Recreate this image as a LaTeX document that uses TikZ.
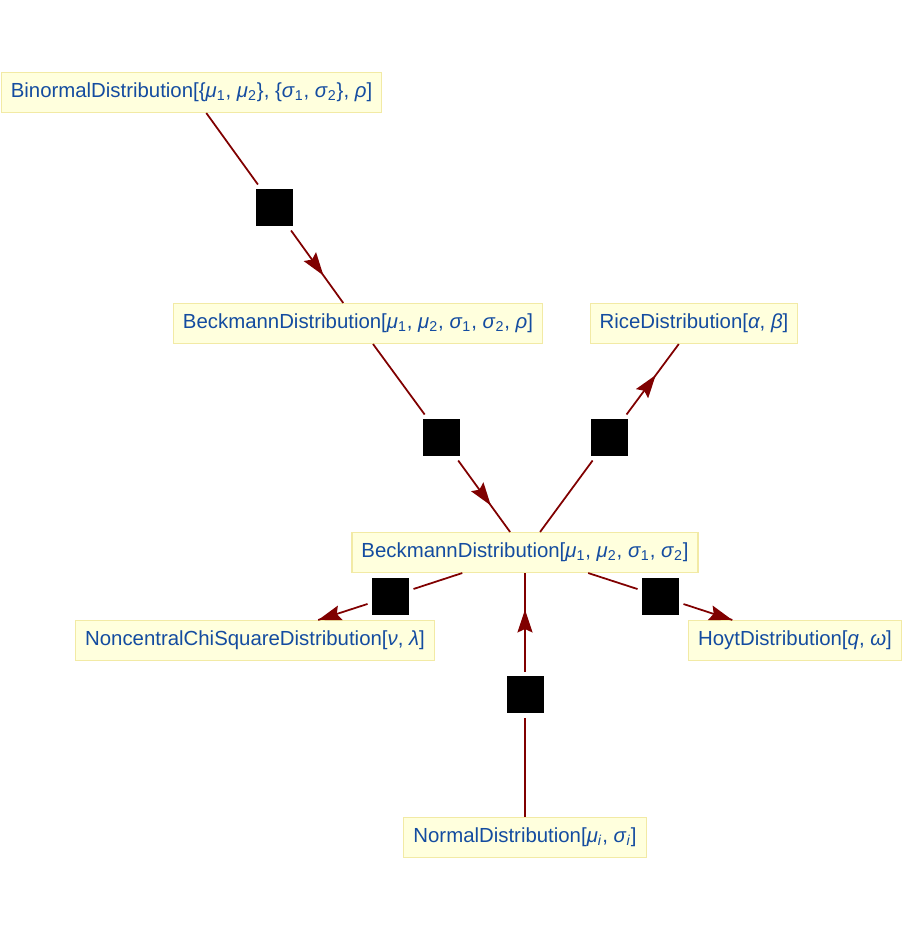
\documentclass[tikz,border=0pt]{standalone}
\usepackage{fontspec}
\setmainfont{Liberation Sans}
\usetikzlibrary{arrows.meta,decorations.markings}

\definecolor{distblue}{RGB}{20,76,160}
\definecolor{distfill}{RGB}{255,255,221}
\definecolor{distline}{RGB}{242,234,165}
\definecolor{edgered}{RGB}{128,0,0}

\tikzset{
    dist/.style={draw=distline, fill=distfill, text=distblue, line width=0.6pt,
        inner xsep=0.19cm, minimum height=0.8cm, font=\fontsize{11.6}{14}\selectfont},
    gate/.style={fill=black, minimum size=0.74cm, inner sep=0pt, outer sep=0.09cm},
    link/.style={draw=edgered, color=edgered, line width=1pt},
    flow/.style={link, decoration={markings, mark=at position #1 with
        {\arrow{Stealth[length=0.46cm, width=0.3cm, inset=0.07cm]}}}, postaction={decorate}}
}
\newcommand{\gk}[1]{\textit{#1}}

\begin{document}
\begin{tikzpicture}
    \useasboundingbox (0,0) rectangle (18.04,-18.64);

    % distributions
    \node [dist] (bin) at (3.83, -1.85) {BinormalDistribution[\{\gk{μ}\textsubscript{1}, \gk{μ}\textsubscript{2}\}, \{\gk{σ}\textsubscript{1}, \gk{σ}\textsubscript{2}\}, \gk{ρ}]};
    \node [dist] (beck5) at (7.16, -6.47) {BeckmannDistribution[\gk{μ}\textsubscript{1}, \gk{μ}\textsubscript{2}, \gk{σ}\textsubscript{1}, \gk{σ}\textsubscript{2}, \gk{ρ}]};
    \node [dist] (rice) at (13.88, -6.47) {RiceDistribution[\gk{α}, \gk{β}]};
    \node [dist] (beck4) at (10.50, -11.05) {BeckmannDistribution[\gk{μ}\textsubscript{1}, \gk{μ}\textsubscript{2}, \gk{σ}\textsubscript{1}, \gk{σ}\textsubscript{2}]};
    \node [dist] (nc) at (5.10, -12.81) {NoncentralChiSquareDistribution[\gk{ν}, \gk{λ}]};
    \node [dist] (hoyt) at (15.90, -12.81) {HoytDistribution[\gk{q}, \gk{ω}]};
    \node [dist] (normal) at (10.50, -16.75) {NormalDistribution[\gk{μ}\textsubscript{\gk{i}}, \gk{σ}\textsubscript{\gk{i}}]};

    % squares on the edges
    \node [gate] (s1) at (5.49, -4.15) {};
    \node [gate] (s2) at (8.83, -8.75) {};
    \node [gate] (s3) at (12.19, -8.75) {};
    \node [gate] (s4) at (7.81, -11.93) {};
    \node [gate] (s5) at (13.21, -11.93) {};
    \node [gate] (s6) at (10.50, -13.89) {};

    % edges
    \draw [link] (bin) -- (s1);
    \draw [flow=0.62] (s1) -- (beck5);
    \draw [link] (beck5) -- (s2);
    \draw [flow=0.63] (s2) -- (beck4);
    \draw [link] (beck4) -- (s3);
    \draw [flow=0.56] (s3) -- (rice);
    \draw [link] (beck4) -- (s4);
    \draw [flow=1] (s4) -- (nc);
    \draw [link] (beck4) -- (s5);
    \draw [flow=1] (s5) -- (hoyt);
    \draw [link] (normal) -- (s6);
    \draw [flow=0.63] (s6) -- (beck4);
\end{tikzpicture}
\end{document}
